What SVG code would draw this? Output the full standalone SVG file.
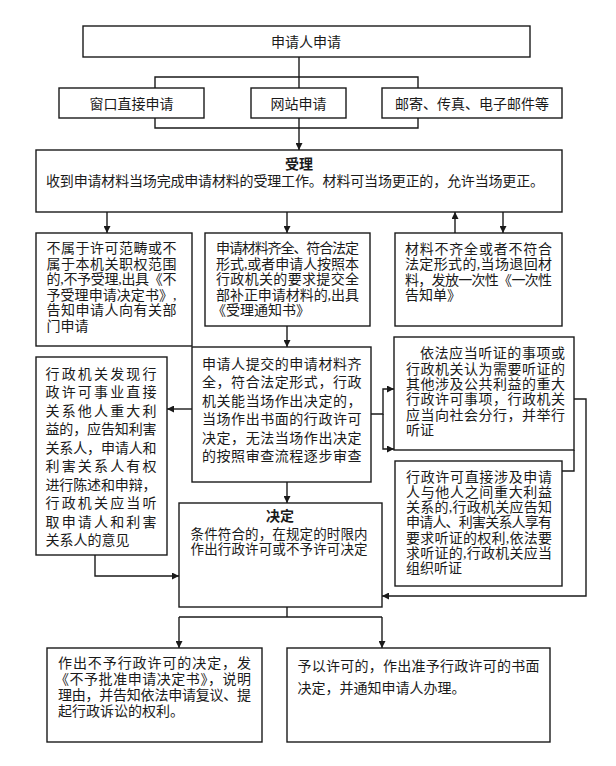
<svg xmlns="http://www.w3.org/2000/svg" width="616" height="766" viewBox="0 0 616 766">
<style>
.box{fill:#fff;stroke:#1a1a1a;stroke-width:1.4}
.ln{fill:none;stroke:#1a1a1a;stroke-width:1.4}
.t{font-family:"Liberation Serif","Noto Sans CJK SC",serif;font-size:14px;fill:#1a1a1a}
.c{text-anchor:middle}
.b{font-weight:bold}
</style>
<defs>
<marker id="ah" viewBox="0 0 10 10" refX="10" refY="5" markerWidth="7" markerHeight="7" markerUnits="userSpaceOnUse" orient="auto">
<path d="M0,0 L10,5 L0,10 z" fill="#1a1a1a"/>
</marker>
</defs>
<rect width="616" height="766" fill="#fff"/>
<g id="connectors">
<path class="ln" d="M299,57 V88"/>
<path class="ln" d="M155,88 V77 H418 V88"/>
<path class="ln" d="M155,118 V128 H418 V118"/>
<path class="ln" d="M299,118 V150" marker-end="url(#ah)"/>
<path class="ln" d="M107,212 V233" marker-end="url(#ah)"/>
<path class="ln" d="M287,212 V233" marker-end="url(#ah)"/>
<path class="ln" d="M455,233 V212" marker-end="url(#ah)"/>
<path class="ln" d="M503,212 V233" marker-end="url(#ah)"/>
<path class="ln" d="M287,326 V347" marker-end="url(#ah)"/>
<path class="ln" d="M192,409 H167" marker-end="url(#ah)"/>
<path class="ln" d="M371,414 H383 V389 H394" marker-end="url(#ah)"/>
<path class="ln" d="M383,414 V449 H394" marker-end="url(#ah)"/>
<path class="ln" d="M563,379 H574"/>
<path class="ln" d="M574,450 V471 H562"/>
<path class="ln" d="M574,399 H586 V596 H382" marker-end="url(#ah)"/>
<path class="ln" d="M287,482 V503" marker-end="url(#ah)"/>
<path class="ln" d="M95,555 V576 H179" marker-end="url(#ah)"/>
<path class="ln" d="M287,607 V617"/>
<path class="ln" d="M179,617 H382"/>
<path class="ln" d="M179,617 V648" marker-end="url(#ah)"/>
<path class="ln" d="M382,617 V648" marker-end="url(#ah)"/>
</g>
<g id="n1">
<rect class="box" x="83" y="26" width="447" height="31"/>
<text class="t c" x="306" y="47">申请人申请</text>
</g>
<g id="n2">
<rect class="box" x="59" y="88" width="145" height="30"/>
<text class="t c" x="131.5" y="108.5">窗口直接申请</text>
</g>
<g id="n3">
<rect class="box" x="251" y="88" width="95" height="30"/>
<text class="t c" x="298.5" y="108.5">网站申请</text>
</g>
<g id="n4">
<rect class="box" x="382" y="88" width="180" height="30"/>
<text class="t c" x="472" y="108.5">邮寄、传真、电子邮件等</text>
</g>
<g id="n5">
<rect class="box" x="36" y="150" width="526" height="62"/>
<text class="t c b" x="299" y="168.5">受理</text>
<text class="t" x="46" y="185.5" textLength="498" lengthAdjust="spacing">收到申请材料当场完成申请材料的受理工作。材料可当场更正的，允许当场更正。</text>
</g>
<g id="n6">
<rect class="box" x="36" y="233" width="156" height="113"/>
<text class="t" x="46.5" y="253" textLength="130" lengthAdjust="spacing">不属于许可范畴或不</text>
<text class="t" x="46.5" y="268.6" textLength="130" lengthAdjust="spacing">属于本机关职权范围</text>
<text class="t" x="46.5" y="284.2" textLength="130" lengthAdjust="spacing">的,不予受理,出具《不</text>
<text class="t" x="46.5" y="299.8" textLength="130" lengthAdjust="spacing">予受理申请决定书》,</text>
<text class="t" x="46.5" y="315.4" textLength="130" lengthAdjust="spacing">告知申请人向有关部</text>
<text class="t" x="46.5" y="331">门申请</text>
</g>
<g id="n7">
<rect class="box" x="205" y="233" width="165" height="93"/>
<text class="t" x="216" y="253" textLength="143" lengthAdjust="spacing">申请材料齐全、符合法定</text>
<text class="t" x="216" y="268.5" textLength="143" lengthAdjust="spacing">形式,或者申请人按照本</text>
<text class="t" x="216" y="284" textLength="143" lengthAdjust="spacing">行政机关的要求提交全</text>
<text class="t" x="216" y="299.5" textLength="143" lengthAdjust="spacing">部补正申请材料的,出具</text>
<text class="t" x="212" y="315">《受理通知书》</text>
</g>
<g id="n8">
<rect class="box" x="395" y="233" width="167" height="93"/>
<text class="t" x="405" y="253.5" textLength="147" lengthAdjust="spacing">材料不齐全或者不符合</text>
<text class="t" x="405" y="269.1" textLength="147" lengthAdjust="spacing">法定形式的,当场退回材</text>
<text class="t" x="405" y="284.7" textLength="147" lengthAdjust="spacing">料，发放一次性《一次性</text>
<text class="t" x="405" y="300.3">告知单》</text>
</g>
<g id="n9">
<rect class="box" x="394" y="337" width="180" height="113"/>
<text class="t" x="420" y="358.3" textLength="145" lengthAdjust="spacing">依法应当听证的事项或</text>
<text class="t" x="406" y="373.6" textLength="159" lengthAdjust="spacing">行政机关认为需要听证的</text>
<text class="t" x="406" y="388.9" textLength="159" lengthAdjust="spacing">其他涉及公共利益的重大</text>
<text class="t" x="406" y="404.2" textLength="159" lengthAdjust="spacing">行政许可事项，行政机关</text>
<text class="t" x="406" y="419.5" textLength="159" lengthAdjust="spacing">应当向社会分行，并举行</text>
<text class="t" x="406" y="434.8">听证</text>
</g>
<g id="n10">
<rect class="box" x="192" y="347" width="179" height="135"/>
<text class="t" x="202" y="368.8" textLength="159.5" lengthAdjust="spacing">申请人提交的申请材料齐</text>
<text class="t" x="202" y="387.3" textLength="159.5" lengthAdjust="spacing">全，符合法定形式，行政</text>
<text class="t" x="202" y="405.8" textLength="159.5" lengthAdjust="spacing">机关能当场作出决定的，</text>
<text class="t" x="202" y="424.3" textLength="159.5" lengthAdjust="spacing">当场作出书面的行政许可</text>
<text class="t" x="202" y="442.8" textLength="159.5" lengthAdjust="spacing">决定，无法当场作出决定</text>
<text class="t" x="202" y="461.3" textLength="159.5" lengthAdjust="spacing">的按照审查流程逐步审查</text>
</g>
<g id="n11">
<rect class="box" x="36" y="357" width="131" height="198"/>
<text class="t" x="45.5" y="378.6" textLength="111" lengthAdjust="spacing">行政机关发现行</text>
<text class="t" x="45.5" y="397.1" textLength="111" lengthAdjust="spacing">政许可事业直接</text>
<text class="t" x="45.5" y="415.6" textLength="111" lengthAdjust="spacing">关系他人重大利</text>
<text class="t" x="45.5" y="434.1" textLength="111" lengthAdjust="spacing">益的，应告知利害</text>
<text class="t" x="45.5" y="452.6" textLength="111" lengthAdjust="spacing">关系人，申请人和</text>
<text class="t" x="45.5" y="471.1" textLength="111" lengthAdjust="spacing">利害关系人有权</text>
<text class="t" x="45.5" y="489.6" textLength="111" lengthAdjust="spacing">进行陈述和申辩，</text>
<text class="t" x="45.5" y="508.1" textLength="111" lengthAdjust="spacing">行政机关应当听</text>
<text class="t" x="45.5" y="526.6" textLength="111" lengthAdjust="spacing">取申请人和利害</text>
<text class="t" x="45.5" y="545.1">关系人的意见</text>
</g>
<g id="n12">
<rect class="box" x="179" y="503" width="203" height="104"/>
<text class="t c b" x="280" y="521">决定</text>
<text class="t" x="190.5" y="539" style="font-size:13.5px" textLength="177" lengthAdjust="spacing">条件符合的，在规定的时限内</text>
<text class="t" x="190.5" y="554" style="font-size:13.5px" textLength="177" lengthAdjust="spacing">作出行政许可或不予许可决定</text>
</g>
<g id="n13">
<rect class="box" x="395" y="461" width="167" height="125"/>
<text class="t" x="406" y="481.8" textLength="146" lengthAdjust="spacing">行政许可直接涉及申请</text>
<text class="t" x="406" y="497" textLength="146" lengthAdjust="spacing">人与他人之间重大利益</text>
<text class="t" x="406" y="512.2" textLength="146" lengthAdjust="spacing">关系的,行政机关应告知</text>
<text class="t" x="406" y="527.4" textLength="146" lengthAdjust="spacing">申请人、利害关系人享有</text>
<text class="t" x="406" y="542.6" textLength="146" lengthAdjust="spacing">要求听证的权利,依法要</text>
<text class="t" x="406" y="557.8" textLength="146" lengthAdjust="spacing">求听证的,行政机关应当</text>
<text class="t" x="406" y="573">组织听证</text>
</g>
<g id="n14">
<rect class="box" x="47" y="648" width="215" height="94"/>
<text class="t" x="58" y="667.5" textLength="193" lengthAdjust="spacing">作出不予行政许可的决定，发</text>
<text class="t" x="55" y="683.8" textLength="196" lengthAdjust="spacing">《不予批准申请决定书》，说明</text>
<text class="t" x="58" y="700.1" textLength="193" lengthAdjust="spacing">理由，并告知依法申请复议、提</text>
<text class="t" x="58" y="716.4">起行政诉讼的权利。</text>
</g>
<g id="n15">
<rect class="box" x="287" y="648" width="263" height="94"/>
<text class="t" x="297.5" y="671" textLength="242" lengthAdjust="spacing">予以许可的，作出准予行政许可的书面</text>
<text class="t" x="297.5" y="692.5">决定，并通知申请人办理。</text>
</g>
</svg>
